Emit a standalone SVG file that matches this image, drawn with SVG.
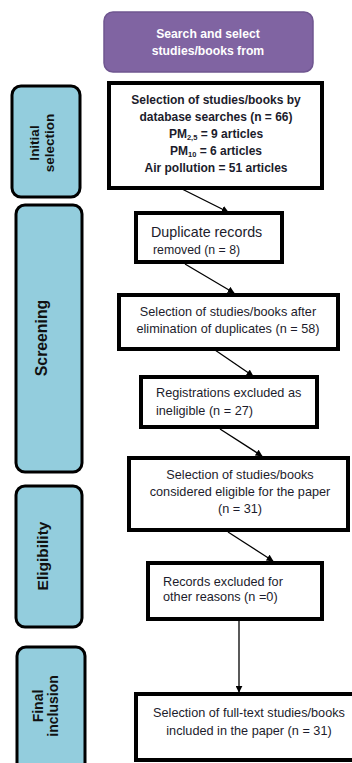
<svg xmlns="http://www.w3.org/2000/svg" width="352" height="763" viewBox="0 0 352 763">
<defs>
<style>
.phase{fill:#93cddd;stroke:#000;stroke-width:3}
.box{fill:#fff;stroke:#000;stroke-width:4}
.t{font-family:"Liberation Sans",Arial,sans-serif;fill:#1c1c2c;font-size:12.7px}
.c{text-anchor:middle}
.b{font-weight:bold;font-size:12px}
.pl{font-family:"Liberation Sans",Arial,sans-serif;fill:#111;font-weight:bold;text-anchor:middle}
.con{stroke:#000;stroke-width:1.3;fill:none;marker-end:url(#ah)}
</style>
<marker id="ah" viewBox="0 0 10 10" refX="9" refY="5" markerWidth="7" markerHeight="7" orient="auto" markerUnits="userSpaceOnUse">
<path d="M0,0 L10,5 L0,10 z" fill="#000"/>
</marker>
</defs>
<rect width="352" height="763" fill="#fff"/>

<g id="phase-initial">
<rect class="phase" x="12" y="86" width="68" height="111" rx="9"/>
<text class="pl" font-size="13.5" transform="translate(39,143) rotate(-90)">Initial</text>
<text class="pl" font-size="13.5" transform="translate(54,143) rotate(-90)">selection</text>
</g>
<g id="phase-screening">
<rect class="phase" x="16" y="205" width="66" height="267" rx="9"/>
<text class="pl" font-size="15.8" transform="translate(47,338) rotate(-90)">Screening</text>
</g>
<g id="phase-eligibility">
<rect class="phase" x="16" y="486" width="66" height="141" rx="9"/>
<text class="pl" font-size="15.5" transform="translate(48,556) rotate(-90)">Eligibility</text>
</g>
<g id="phase-final">
<rect class="phase" x="17" y="647" width="68" height="130" rx="9"/>
<text class="pl" font-size="14" transform="translate(43,706) rotate(-90)">Final</text>
<text class="pl" font-size="14" transform="translate(58,706) rotate(-90)">inclusion</text>
</g>

<g id="search">
<rect x="104" y="12" width="209" height="60" rx="9" fill="#8064a2" stroke="#6f5690" stroke-width="1.5"/>
<text class="t c b" x="208" y="38" style="fill:#fff;font-size:12.2px">Search and select</text>
<text class="t c b" x="208" y="55" style="fill:#fff;font-size:12.2px">studies/books from</text>
</g>

<g id="n1">
<rect class="box" x="109" y="83" width="213" height="105"/>
<text class="t c b" x="216" y="104">Selection of studies/books by</text>
<text class="t c b" x="216" y="121">database searches (n = 66)</text>
<text class="t c b" x="216" y="138">PM<tspan font-size="7.5" dy="2">2,5</tspan><tspan dy="-2"> = 9 articles</tspan></text>
<text class="t c b" x="216" y="155">PM<tspan font-size="7.5" dy="2">10</tspan><tspan dy="-2"> = 6 articles</tspan></text>
<text class="t c b" x="216" y="172">Air pollution = 51 articles</text>
</g>

<g id="n2">
<rect class="box" x="136" y="213" width="146" height="49"/>
<text class="t" x="151" y="237" font-size="14.3" style="font-size:14.3px">Duplicate records</text>
<text class="t" x="153" y="254" style="font-size:12.3px">removed (n = 8)</text>
</g>

<g id="n3">
<rect class="box" x="119" y="295" width="219" height="54"/>
<text class="t c" x="228" y="316">Selection of studies/books after</text>
<text class="t c" x="228" y="333">elimination of duplicates (n = 58)</text>
</g>

<g id="n4">
<rect class="box" x="141" y="377" width="176" height="50"/>
<text class="t" x="156" y="397">Registrations excluded as</text>
<text class="t" x="156" y="415">ineligible (n = 27)</text>
</g>

<g id="n5">
<rect class="box" x="129" y="458" width="219" height="72"/>
<text class="t c" x="240" y="479">Selection of studies/books</text>
<text class="t c" x="240" y="496">considered eligible for the paper</text>
<text class="t c" x="240" y="513">(n = 31)</text>
</g>

<g id="n6">
<rect class="box" x="148" y="563" width="174" height="56"/>
<text class="t" x="163" y="586">Records excluded for</text>
<text class="t" x="163" y="601">other reasons (n =0)</text>
</g>

<g id="n7">
<rect class="box" x="136" y="694" width="220" height="66"/>
<text class="t c" x="249" y="717">Selection of full-text studies/books</text>
<text class="t c" x="249" y="735">included in the paper (n = 31)</text>
</g>

<g id="connectors">
<line class="con" x1="182" y1="189" x2="228" y2="212"/>
<line class="con" x1="185" y1="264" x2="234" y2="293"/>
<line class="con" x1="215" y1="350" x2="253" y2="376"/>
<line class="con" x1="220" y1="429" x2="262" y2="456"/>
<line class="con" x1="228" y1="532" x2="273" y2="561"/>
<line class="con" x1="239" y1="621" x2="239" y2="692"/>
</g>
</svg>
